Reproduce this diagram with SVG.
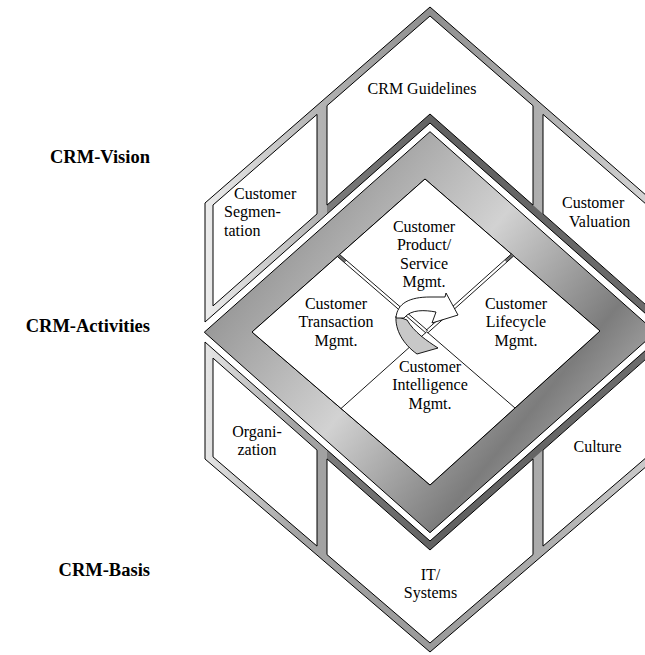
<svg xmlns="http://www.w3.org/2000/svg" width="645" height="655" viewBox="0 0 645 655">
<defs>
<style>
.t{font-family:"Liberation Serif","Times New Roman",serif;font-size:16px;fill:#000}
.c{text-anchor:middle}
.b{font-weight:bold;text-anchor:end;font-size:18.5px}
.ol{fill:none;stroke:#000;stroke-width:1}
.pn{fill:#fff;stroke:#000;stroke-width:1}
.ln{stroke:#000;stroke-width:0.9;fill:none}
</style>
<linearGradient id="gUp" gradientUnits="userSpaceOnUse" x1="205" y1="0" x2="655" y2="0">
<stop offset="0" stop-color="#ececec"/><stop offset="0.25" stop-color="#b4b4b4"/><stop offset="0.5" stop-color="#8e8e8e"/><stop offset="0.75" stop-color="#b0b0b0"/><stop offset="1" stop-color="#d6d6d6"/>
</linearGradient>
<linearGradient id="gLow" gradientUnits="userSpaceOnUse" x1="205" y1="0" x2="655" y2="0">
<stop offset="0" stop-color="#e6e6e6"/><stop offset="0.2" stop-color="#a4a4a4"/><stop offset="0.5" stop-color="#9a9a9a"/><stop offset="0.75" stop-color="#acacac"/><stop offset="1" stop-color="#cccccc"/>
</linearGradient>
<linearGradient id="gDark" gradientUnits="userSpaceOnUse" x1="327" y1="0" x2="655" y2="0">
<stop offset="0" stop-color="#7c7c7c"/><stop offset="0.35" stop-color="#606060"/><stop offset="1" stop-color="#6c6c6c"/>
</linearGradient>
<linearGradient id="gFrame" gradientUnits="userSpaceOnUse" x1="260" y1="200" x2="600" y2="480">
<stop offset="0" stop-color="#8a8a8a"/><stop offset="0.45" stop-color="#d2d2d2"/><stop offset="0.78" stop-color="#7c7c7c"/><stop offset="1" stop-color="#b8b8b8"/>
</linearGradient>
</defs>

<g id="labels">
<text class="t b" x="150" y="163">CRM-Vision</text>
<text class="t b" x="150" y="332">CRM-Activities</text>
<text class="t b" x="150" y="576">CRM-Basis</text>
</g>

<g id="vision">
<path d="M205,203 L430,7 L655,203 L655,322 L430,123 L205,322 Z" fill="url(#gUp)"/>
<path d="M327,214.1 L430,123 L655,322 L655,313 L430,114 L327,205.1 Z" fill="url(#gDark)"/>
<path class="ol" d="M205,203 L430,7 L655,203 L655,322 L430,123 L205,322 Z"/>
<g id="seg">
<path class="pn" d="M213,205 L317,114.4 L317,213.9 L213,305.9 Z"/>
<text class="t" x="234" y="198.5">Customer</text>
<text class="t" x="224" y="217">Segmen-</text>
<text class="t" x="224" y="235.5">tation</text>
</g>
<g id="guidelines">
<path class="pn" d="M327,105.7 L430,16 L533,105.7 L533,205.1 L430,114 L327,205.1 Z"/>
<text class="t c" x="422" y="94">CRM Guidelines</text>
</g>
<g id="valuation">
<path class="pn" d="M543,114.4 L647,205 L647,305.9 L543,213.9 Z"/>
<text class="t" x="562" y="208">Customer</text>
<text class="t" x="569" y="226.5">Valuation</text>
</g>
</g>

<g id="basis">
<path d="M205,342 L430,541 L655,342 L655,459 L430,652 L205,459 Z" fill="url(#gLow)"/>
<path d="M327,449.9 L430,541 L655,342 L655,351 L430,550 L327,458.9 Z" fill="url(#gDark)"/>
<path class="ol" d="M205,342 L430,541 L655,342 L655,459 L430,652 L205,459 Z"/>
<g id="organization">
<path class="pn" d="M213,358.1 L317,450.1 L317,546.1 L213,456.9 Z"/>
<text class="t c" x="257" y="437">Organi-</text>
<text class="t c" x="257" y="455">zation</text>
</g>
<g id="it">
<path class="pn" d="M327,458.9 L430,550 L533,458.9 L533,554.6 L430,643 L327,554.6 Z"/>
<text class="t c" x="430.5" y="580">IT/</text>
<text class="t c" x="430.5" y="598">Systems</text>
</g>
<g id="culture">
<path class="pn" d="M543,450.1 L647,358.1 L647,456.9 L543,546.1 Z"/>
<text class="t c" x="597.5" y="452">Culture</text>
</g>
</g>

<g id="frame">
<path d="M430,131.7 L655.7,332.2 L430,532.7 L204.3,332.2 Z M425,179 L252,332 L430,485 L600,331 Z" fill="url(#gFrame)" fill-rule="evenodd" stroke="#000" stroke-width="1"/>
<path class="pn" d="M425,179 L600,331 L430,485 L252,332 Z"/>
</g>

<g id="connectors">
<path d="M337.5,256.6 L339.5,254.4 L346.6,260.5 L344.6,262.7 Z" fill="#6e6e6e"/>
<path d="M513.5,256.1 L511.5,253.9 L504.6,260 L506.6,262.2 Z" fill="#6e6e6e"/>
<path class="ln" d="M337.5,256.6 L425.8,332.9 M339.5,254.4 L427.7,330.6"/>
<path class="ln" d="M513.5,256.1 L427.75,332.9 M511.5,253.9 L425.75,330.6"/>
<path class="ln" d="M426.75,331.75 L341,408.5 M426.75,331.75 L515,408"/>
</g>

<g id="cycle-arrow">
<path d="M396,316 C395,330 403,344 417,354 L438,348 C427,341 414,332 407,320 Z" fill="#c8c8c8" stroke="#000" stroke-width="0.9"/>
<path d="M396,318 C397,303 410,297 430,297 L445,297 L446,293 L458,315 L432,323 L436,312 C425,310 411,309 404,318 Z" fill="#fff" stroke="#000" stroke-width="0.9"/>
</g>

<g id="activities">
<g id="product">
<text class="t c" x="424" y="232">Customer</text>
<text class="t c" x="424" y="250.3">Product/</text>
<text class="t c" x="424" y="268.6">Service</text>
<text class="t c" x="424" y="287">Mgmt.</text>
</g>
<g id="transaction">
<text class="t c" x="336" y="308.5">Customer</text>
<text class="t c" x="336" y="327">Transaction</text>
<text class="t c" x="336" y="345.5">Mgmt.</text>
</g>
<g id="lifecycle">
<text class="t c" x="516" y="308.5">Customer</text>
<text class="t c" x="516" y="327">Lifecycle</text>
<text class="t c" x="516" y="345.5">Mgmt.</text>
</g>
<g id="intelligence">
<text class="t c" x="430" y="371.5">Customer</text>
<text class="t c" x="430" y="390">Intelligence</text>
<text class="t c" x="430" y="408.5">Mgmt.</text>
</g>
</g>
</svg>
